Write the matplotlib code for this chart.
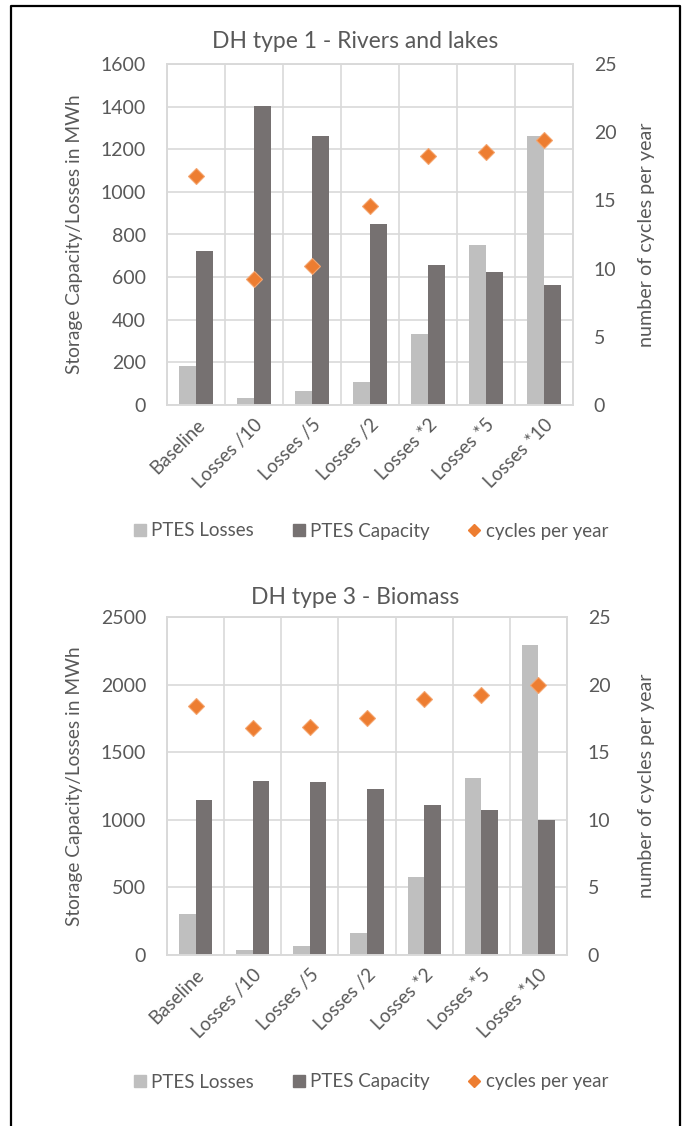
import matplotlib
matplotlib.use("Agg")
import matplotlib.pyplot as plt
from matplotlib.lines import Line2D
import numpy as np

plt.rcParams['font.family'] = ['Lato', 'DejaVu Sans']

categories = ["Baseline", "Losses /10", "Losses /5", "Losses /2", "Losses *2", "Losses *5", "Losses *10"]

t1_title = "DH type 1 - Rivers and lakes"
t1_losses = [184, 35, 64, 108, 331, 753, 1264]
t1_capacity = [722, 1402, 1261, 850, 657, 626, 563]
t1_cycles = [16.8, 9.25, 10.2, 14.6, 18.25, 18.55, 19.4]

t3_title = "DH type 3 - Biomass"
t3_losses = [301, 34, 68, 161, 577, 1311, 2292]
t3_capacity = [1150, 1287, 1279, 1228, 1106, 1074, 1000]
t3_cycles = [18.45, 16.8, 16.85, 17.5, 18.95, 19.25, 20.0]

TXT = "#595959"
GRID = "#D9D9D9"
C_LOSS = "#BFBFBF"
C_CAP = "#767171"
C_CYC = "#ED7D31"

W, H = 683, 1126
fig = plt.figure(figsize=(W / 100, H / 100), dpi=100)
fig.patch.set_facecolor("white")

def px_rect(l, t, r, b):
    return [l / W, 1 - b / H, (r - l) / W, (b - t) / H]

def draw(rect, title, title_y, losses, capacity, cycles, ymax, ystep, legend_y):
    ax = fig.add_axes(px_rect(*rect))
    x = np.arange(len(categories))
    bw = 0.29
    ax.bar(x - bw / 2, losses, width=bw, color=C_LOSS, zorder=2)
    ax.bar(x + bw / 2, capacity, width=bw, color=C_CAP, zorder=2)
    ax.set_xlim(-0.5, len(categories) - 0.5)
    ax.set_ylim(0, ymax)
    ax.set_yticks(np.arange(0, ymax + 1, ystep))
    ax.set_xticks(x)
    ax.set_xticklabels(categories, rotation=45, ha="right", rotation_mode="anchor")
    ax.set_xticks(np.arange(-0.5, len(categories), 1), minor=True)
    ax.grid(axis="y", color=GRID, lw=1.2, zorder=0)
    ax.grid(axis="x", which="minor", color=GRID, lw=1.2, zorder=0)
    ax.tick_params(axis="x", which="both", length=0, pad=8, labelsize=13.5, labelcolor=TXT)
    ax.tick_params(axis="y", length=0, pad=15, labelsize=14, labelcolor=TXT)
    for s in ax.spines.values():
        s.set_color(GRID)
        s.set_linewidth(1.2)
    ax.set_ylabel("Storage Capacity/Losses in MWh", color=TXT, fontsize=13.8)
    ax.yaxis.set_label_coords((83 - rect[0]) / (rect[2] - rect[0]), 0.5)

    ax2 = ax.twinx()
    ax2.plot(x, cycles, ls="none", marker="D", ms=8, color=C_CYC,
             markeredgecolor="#F4A46E", markeredgewidth=0.8, zorder=3)
    ax2.set_ylim(0, 25)
    ax2.set_yticks(np.arange(0, 26, 5))
    ax2.tick_params(axis="y", length=0, pad=15, labelsize=14, labelcolor=TXT)
    for s in ax2.spines.values():
        s.set_color(GRID)
        s.set_linewidth(1.2)
    ax2.set_ylabel("number of cycles per year", color=TXT, fontsize=14.2)
    ax2.yaxis.set_label_coords((638 - rect[0]) / (rect[2] - rect[0]), 0.5)

    fig.text(355 / W, 1 - title_y / H, title, ha="center", va="center",
             fontsize=16.5, color=TXT)

    handles = [
        Line2D([], [], ls="none", marker="s", ms=9, color=C_LOSS),
        Line2D([], [], ls="none", marker="s", ms=9, color=C_CAP),
        Line2D([], [], ls="none", marker="D", ms=6, color=C_CYC),
    ]
    labels = ["PTES Losses", "PTES Capacity", "cycles per year"]
    fig.legend(handles, labels, loc="center", bbox_to_anchor=(370 / W, 1 - legend_y / H),
               ncol=3, frameon=False, fontsize=13.5, labelcolor=TXT,
               handlelength=0.8, handletextpad=0.2, columnspacing=2.0)
    return ax

draw((167, 64, 573, 405), t1_title, 41, t1_losses, t1_capacity, t1_cycles, 1600, 200, 531)
draw((167, 617, 567, 955), t3_title, 598, t3_losses, t3_capacity, t3_cycles, 2500, 500, 1082)

# outer frame (bottom edge lies outside the image)
l, t, r = 11 / W, 1 - 6 / H, 680 / W
fig.add_artist(Line2D([l, l, r, r], [-0.01, t, t, -0.01], transform=fig.transFigure,
                      color="black", lw=1.6))

fig.savefig("out.png", dpi=100, facecolor="white")
